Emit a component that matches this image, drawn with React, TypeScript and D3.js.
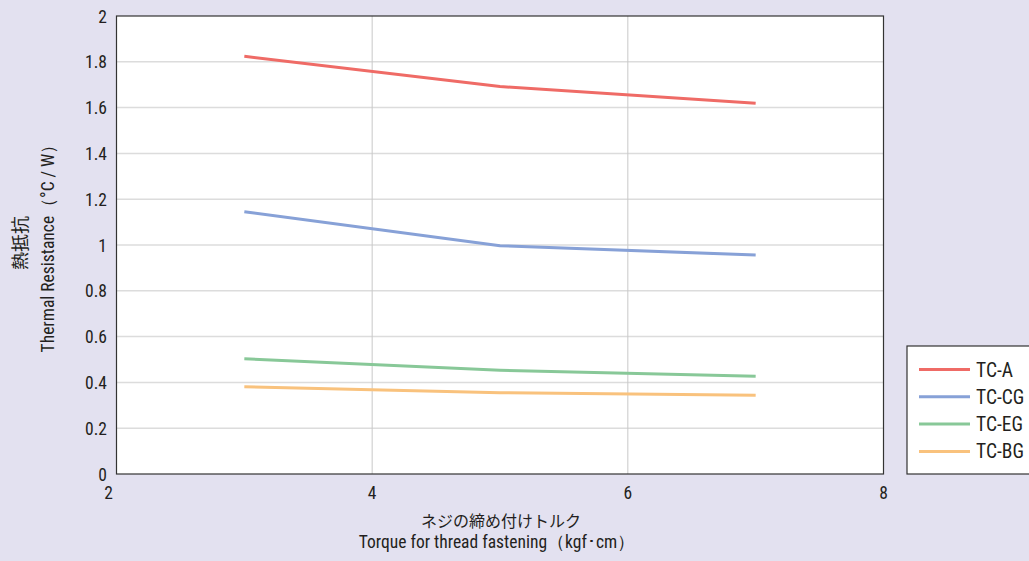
import React from "react";
import * as d3 from "d3";

const torque = [3, 5, 7];
const seriesNames = ["TC-A", "TC-CG", "TC-EG", "TC-BG"];
const tcA = [1.824, 1.692, 1.619];
const tcCG = [1.145, 0.997, 0.956];
const tcEG = [0.503, 0.453, 0.427];
const tcBG = [0.381, 0.355, 0.344];
const seriesColors = ["#ef6b66", "#87a1d7", "#88c898", "#f9c27d"];
const xTicks = [2, 4, 6, 8];
const yTicks = [0, 0.2, 0.4, 0.6, 0.8, 1, 1.2, 1.4, 1.6, 1.8, 2];
const yTitleJa = "熱抵抗";
const yTitleEn = "Thermal Resistance（°C / W）";
const xTitleJa = "ネジの締め付けトルク";
const xTitleEn = "Torque for thread fastening（kgf･cm）";

const W = 1029;
const H = 561;
const M = { left: 116.5, right: 883.5, top: 16, bottom: 474 };
const FONT = "'Liberation Sans Narrow', 'Roboto Condensed', 'Arial Narrow', Roboto, sans-serif";
const JFONT = "'Noto Sans CJK JP', sans-serif";

export default function App() {
  const x = d3.scaleLinear().domain([2, 8]).range([M.left, M.right]);
  const y = d3.scaleLinear().domain([0, 2]).range([M.bottom, M.top]);
  const values = [tcA, tcCG, tcEG, tcBG];
  const line = d3
    .line<number>()
    .x((_, i) => x(torque[i]))
    .y((d) => y(d));

  const legendX = 907;
  const legendY = 346;
  const rowY = (i: number) => legendY + 23.5 + i * 27.3;

  return (
    <svg
      width={W}
      height={H}
      style={{ position: "fixed", left: 0, top: 0, display: "block" }}
    >
      <rect x={0} y={0} width={W} height={H} fill="#e3e1f0" />
      <rect x={M.left} y={M.top} width={M.right - M.left} height={M.bottom - M.top} fill="#ffffff" />
      {yTicks.slice(1, -1).map((t) => (
        <line key={"gy" + t} x1={M.left} x2={M.right} y1={y(t)} y2={y(t)} stroke="#dcdcdc" strokeWidth={1.5} />
      ))}
      {xTicks.slice(1, -1).map((t) => (
        <line key={"gx" + t} x1={x(t)} x2={x(t)} y1={M.top} y2={M.bottom} stroke="#c8c8c8" strokeWidth={1} />
      ))}
      <rect
        x={M.left}
        y={M.top}
        width={M.right - M.left}
        height={M.bottom - M.top}
        fill="none"
        stroke="#333"
        strokeWidth={1.2}
      />
      {values.map((v, i) => (
        <path key={seriesNames[i]} d={line(v) || ""} fill="none" stroke={seriesColors[i]} strokeWidth={3} />
      ))}
      {yTicks.map((t) => (
        <text
          key={"ty" + t}
          x={107}
          y={y(t) + 6.5}
          textAnchor="end"
          fontFamily={FONT}
          fontSize={17.5}
          fill="#231f20"
        >
          {String(t)}
        </text>
      ))}
      {xTicks.map((t, i) => (
        <text
          key={"tx" + t}
          x={x(t) + (i === 0 ? -8 : 0)}
          y={498.5}
          textAnchor="middle"
          fontFamily={FONT}
          fontSize={17.5}
          fill="#231f20"
        >
          {String(t)}
        </text>
      ))}
      <text
        transform={`translate(27,243) rotate(-90)`}
        textAnchor="middle"
        fontFamily={JFONT}
        fontSize={18}
        fill="#231f20"
      >
        {yTitleJa}
      </text>
      <text
        transform={`translate(54,244) rotate(-90)`}
        textAnchor="middle"
        fontFamily={FONT}
        fontSize={17.5}
        fill="#231f20"
      >
        {yTitleEn}
      </text>
      <text x={501} y={527} textAnchor="middle" fontFamily={JFONT} fontSize={16} fill="#231f20">
        {xTitleJa}
      </text>
      <text x={497} y={548} textAnchor="middle" fontFamily={FONT} fontSize={17.5} fill="#231f20">
        {xTitleEn}
      </text>
      <rect x={legendX} y={legendY} width={140} height={128} fill="#ffffff" stroke="#333" strokeWidth={1.2} />
      {seriesNames.map((n, i) => (
        <g key={"lg" + n}>
          <line x1={919} x2={970} y1={rowY(i)} y2={rowY(i)} stroke={seriesColors[i]} strokeWidth={3} />
          <text x={976} y={rowY(i) + 7} fontFamily={FONT} fontSize={19.5} fill="#231f20">
            {n}
          </text>
        </g>
      ))}
    </svg>
  );
}
